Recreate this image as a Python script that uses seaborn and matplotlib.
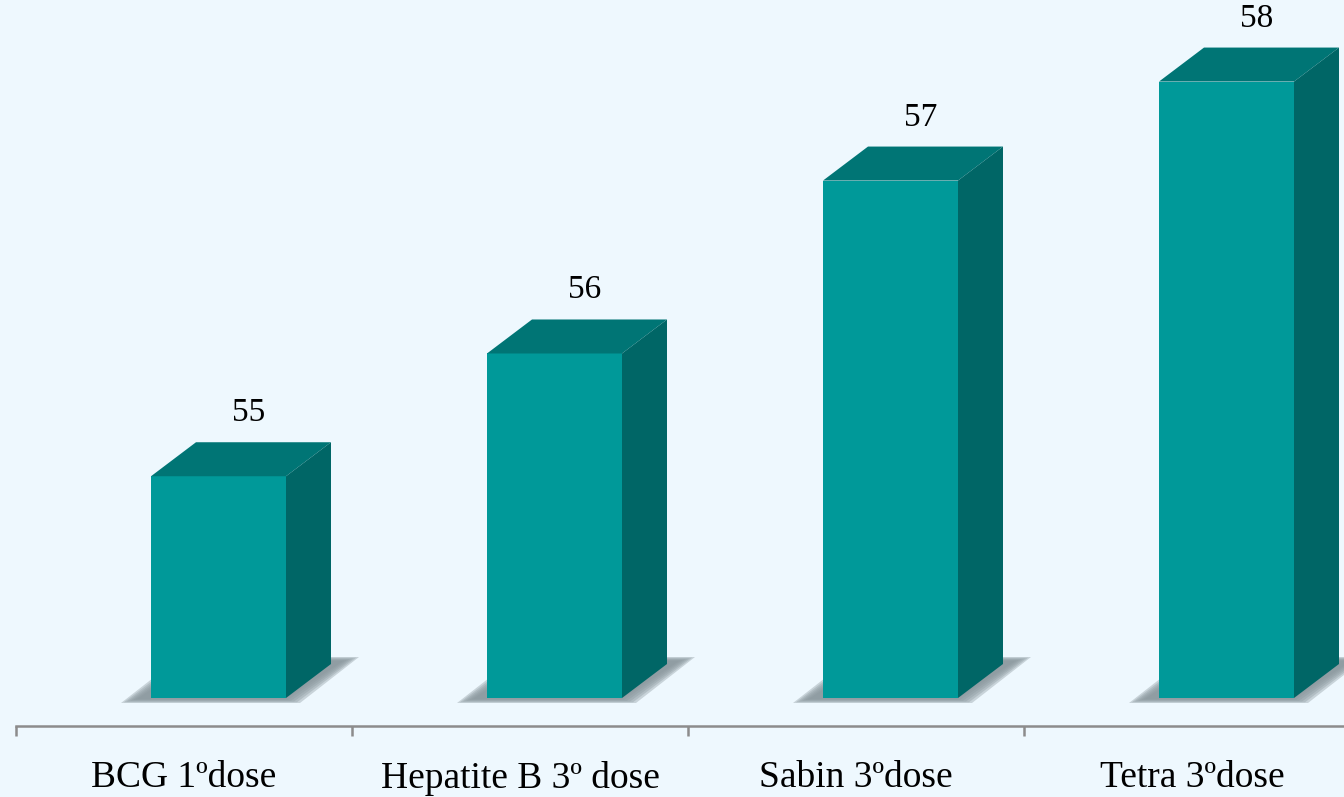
import matplotlib
matplotlib.use("Agg")
import matplotlib.pyplot as plt
from matplotlib.patches import Polygon
import seaborn as sns
import pandas as pd

categories = ["BCG 1ºdose", "Hepatite B 3º dose", "Sabin 3ºdose", "Tetra 3ºdose"]
values = [55.18, 56.11, 57.42, 58.17]
value_labels = ["55", "56", "57", "58"]

df = pd.DataFrame({"vacina": categories, "valor": values})

bg = "#eef8fe"
front = "#009999"
top_c = "#007575"
side_c = "#006666"

sns.set_theme(style="white")
plt.rcParams["font.family"] = ["Liberation Serif", "DejaVu Serif"]

W, H = 1344, 797
fig = plt.figure(figsize=(W / 100, H / 100), dpi=100, facecolor=bg)
ax = fig.add_axes([16 / W, (H - 698) / H, 1328 / W, 698 / H])
ax.set_facecolor(bg)
ax.patch.set_alpha(0)

sns.barplot(data=df, x="vacina", y="valor", color=front, width=135 / 336,
            saturation=1, ax=ax, zorder=3, linewidth=0)

n = len(categories)
ax.tick_params(axis="x", which="major", direction="out", length=7, width=1.8,
               color="#8c8c8c", bottom=True, labelbottom=False)
ax.tick_params(axis="x", which="minor", length=0, pad=25, labelcolor="black",
               labelsize=27, bottom=True, labelbottom=True)
ax.set_xticks([i - 0.5 for i in range(n + 1)])
ax.set_xticks(range(n), minor=True)
ax.set_xticklabels(categories, minor=True)

ax.set_xlim(-0.5, -0.5 + 1328 / 336)
ax.set_ylim(53.5, 53.5 + 698 / 132)

# pixel -> data size helpers
px_x = 1 / 336
px_y = 1 / 132
shift = 34.5 * px_x
dx, dy = 45 * px_x, 34 * px_y
ybase = ax.get_ylim()[0]

for i, p in enumerate(ax.patches[:len(values)]):
    p.set_x(p.get_x() + shift)
    x0 = p.get_x()
    x1 = x0 + p.get_width()
    y1 = p.get_height()
    # soft floor shadow (stacked translucent layers)
    for k, a in enumerate([0.05, 0.07, 0.10, 0.14, 0.18, 0.24]):
        g = (5 - k) * 3
        sh = Polygon([(x0 - 30 * px_x + g * px_x, ybase - 5 * px_y + g * 0.25 * px_y),
                      (x1 + 14 * px_x - g * px_x, ybase - 5 * px_y + g * 0.25 * px_y),
                      (x1 + dx + 28 * px_x - g * px_x, ybase + 41 * px_y - g * 0.25 * px_y),
                      (x0 + dx - 16 * px_x + g * px_x, ybase + 41 * px_y - g * 0.25 * px_y)],
                     closed=True, facecolor="#4f5e64", edgecolor="none", alpha=a,
                     zorder=1, clip_on=False)
        ax.add_patch(sh)
    top = Polygon([(x0, y1), (x1, y1), (x1 + dx, y1 + dy), (x0 + dx, y1 + dy)],
                  closed=True, facecolor=top_c, edgecolor="none", zorder=3)
    side = Polygon([(x1, ybase), (x1 + dx, ybase + dy), (x1 + dx, y1 + dy), (x1, y1)],
                   closed=True, facecolor=side_c, edgecolor="none", zorder=3)
    ax.add_patch(top)
    ax.add_patch(side)
    ax.text((x0 + x1) / 2 + dx / 2 + 8 * px_x, y1 + dy + 14 * px_y, value_labels[i],
            ha="center", va="bottom", fontsize=24, color="black")

for s in ["top", "right", "left"]:
    ax.spines[s].set_visible(False)
ax.spines["bottom"].set_position(("outward", 28 * 0.72))
ax.spines["bottom"].set_color("#8c8c8c")
ax.spines["bottom"].set_linewidth(1.8)
ax.set_yticks([])
ax.set_xlabel("")
ax.set_ylabel("")

fig.savefig("out.png", dpi=100, facecolor=bg)
